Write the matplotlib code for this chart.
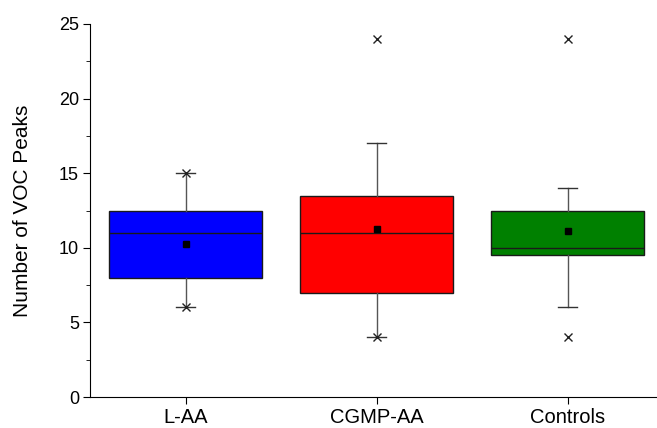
import numpy as np
import matplotlib.pyplot as plt

plt.rcParams['font.family'] = ['Liberation Sans', 'DejaVu Sans']

groups = ['L-AA', 'CGMP-AA', 'Controls']
q1 = [8, 7, 9.5]
median = [11, 11, 10]
q3 = [12.5, 13.5, 12.5]
whislo = [6, 4, 6]
whishi = [15, 17, 14]
means = [10.25, 11.25, 11.15]
data_min = [6, 4, 4]
data_max = [15, 24, 24]
colors = ['#0000FF', '#FF0000', '#008000']

stats = []
for i, g in enumerate(groups):
    stats.append(dict(label=g, q1=q1[i], med=median[i], q3=q3[i],
                      whislo=whislo[i], whishi=whishi[i], mean=means[i],
                      fliers=[data_min[i], data_max[i]]))

fig = plt.figure(figsize=(6.57, 4.28), dpi=100)
ax = fig.add_axes([90 / 657, 1 - 397 / 428, 567 / 657, 373 / 428])

pos = np.arange(1, len(groups) + 1)
bp = ax.bxp(stats, positions=pos, widths=0.8, patch_artist=True, showmeans=True,
            boxprops=dict(edgecolor='#1a1a1a', linewidth=1.0),
            medianprops=dict(color='#1a1a1a', linewidth=1.0),
            whiskerprops=dict(color='#555555', linewidth=1.0),
            capprops=dict(color='#333333', linewidth=1.0),
            capwidths=0.1,
            meanprops=dict(marker='s', markerfacecolor='black', markeredgecolor='black', markersize=5),
            flierprops=dict(marker='x', markeredgecolor='#222222', markersize=6, markeredgewidth=1.0))
for patch, c in zip(bp['boxes'], colors):
    patch.set_facecolor(c)

ax.set_xlim(0.5, 0.5 + 567 / 191)
ax.set_ylim(0, 25)
ax.set_xticks(pos)
ax.set_xticklabels(groups)
ax.set_yticks(np.arange(0, 26, 5))
ax.set_yticks(np.arange(0, 25, 2.5), minor=True)
ax.tick_params(axis='both', which='major', direction='out', length=5, labelsize=13, pad=3)
ax.tick_params(axis='x', which='major', labelsize=14.5)
ax.tick_params(axis='y', which='minor', direction='out', length=3)
ax.spines['top'].set_visible(False)
ax.spines['right'].set_visible(False)
ax.set_ylabel('Number of VOC Peaks', fontsize=15, labelpad=19)

fig.savefig('out.png', dpi=100)
